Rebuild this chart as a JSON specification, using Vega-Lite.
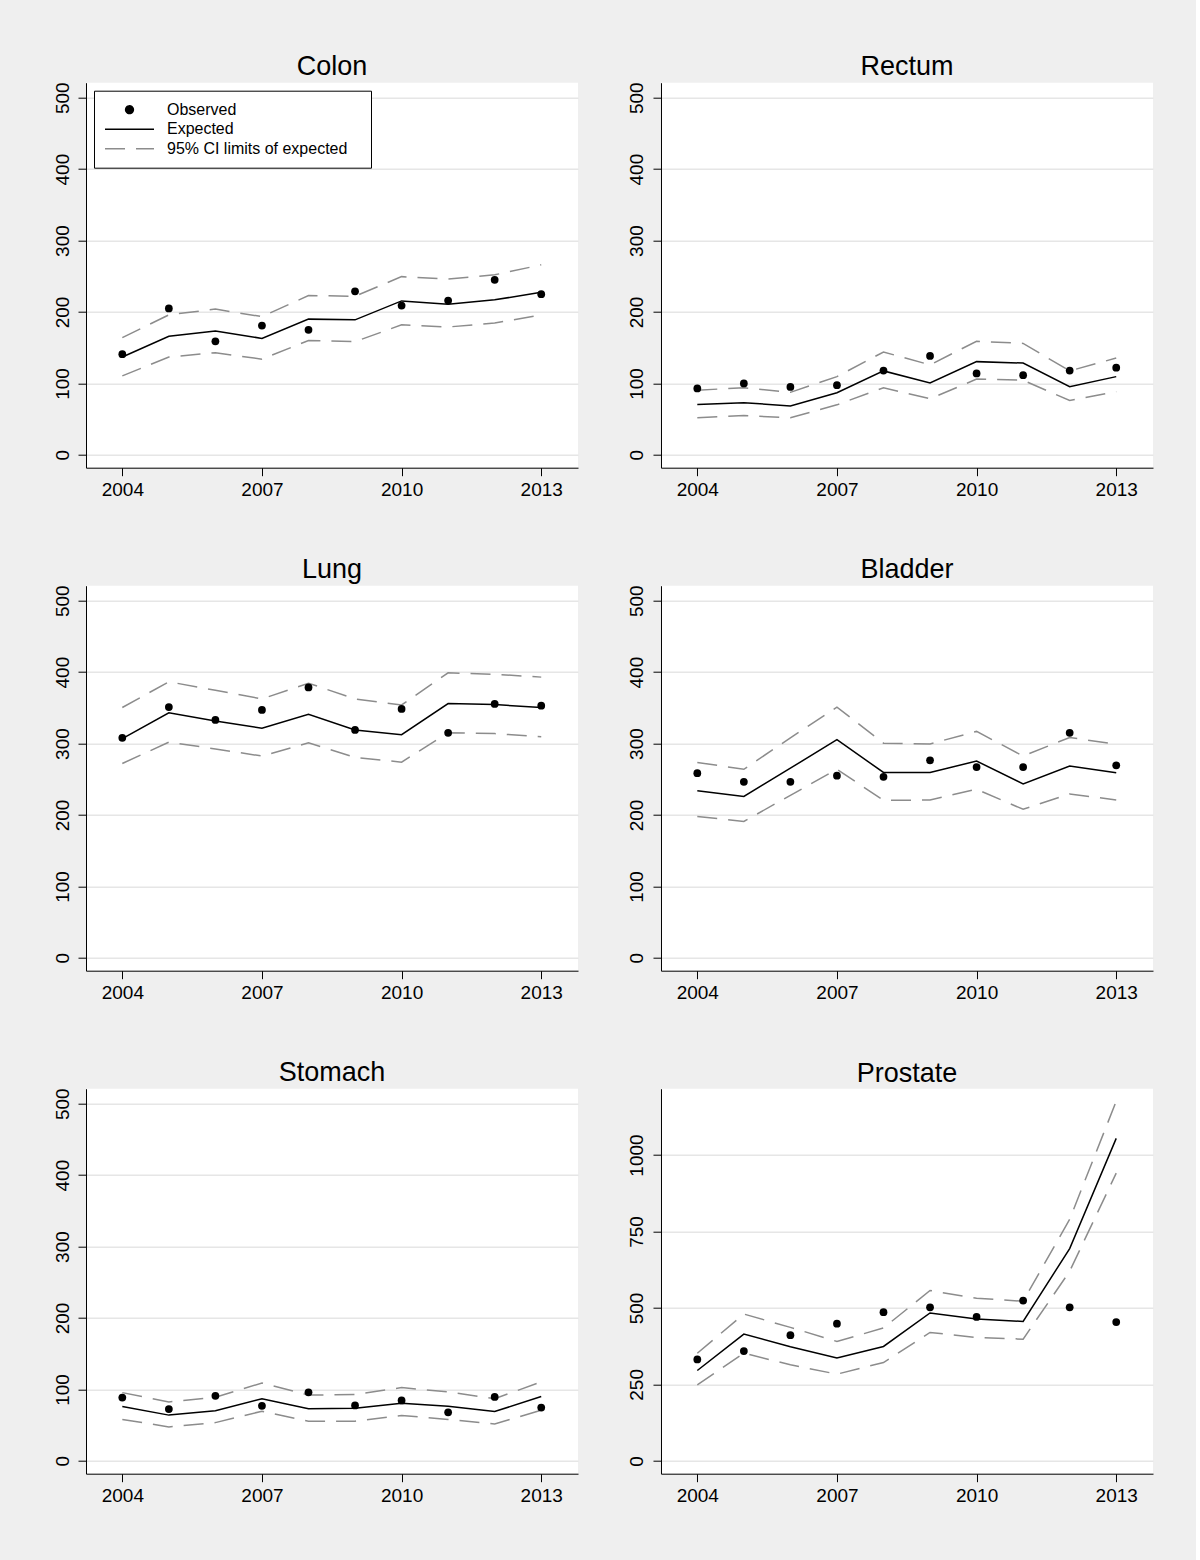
{
  "$schema": "https://vega.github.io/schema/vega-lite/v6.json",
  "background": "#efefef",
  "padding": {"left": 53, "top": 52.7, "right": 43, "bottom": 63},
  "datasets": {
    "cancer": [
      {"site": "Colon", "year": 2004, "obs": 141, "exp": 137, "lo": 110.5, "hi": 164},
      {"site": "Colon", "year": 2005, "obs": 205, "exp": 166, "lo": 137, "hi": 196},
      {"site": "Colon", "year": 2006, "obs": 159, "exp": 173.5, "lo": 143, "hi": 204},
      {"site": "Colon", "year": 2007, "obs": 181, "exp": 163, "lo": 134, "hi": 193.5},
      {"site": "Colon", "year": 2008, "obs": 175, "exp": 190, "lo": 160, "hi": 223},
      {"site": "Colon", "year": 2009, "obs": 229, "exp": 189, "lo": 158.5, "hi": 222},
      {"site": "Colon", "year": 2010, "obs": 209, "exp": 215.5, "lo": 182, "hi": 249.5},
      {"site": "Colon", "year": 2011, "obs": 216, "exp": 211, "lo": 179, "hi": 246},
      {"site": "Colon", "year": 2012, "obs": 245, "exp": 217, "lo": 184.5, "hi": 252},
      {"site": "Colon", "year": 2013, "obs": 225, "exp": 227.5, "lo": 196, "hi": 266},
      {"site": "Rectum", "year": 2004, "obs": 93, "exp": 70.5, "lo": 52, "hi": 90.5},
      {"site": "Rectum", "year": 2005, "obs": 100, "exp": 73, "lo": 55, "hi": 94},
      {"site": "Rectum", "year": 2006, "obs": 95, "exp": 68.5, "lo": 52, "hi": 87.5},
      {"site": "Rectum", "year": 2007, "obs": 97.5, "exp": 87, "lo": 70, "hi": 109.5},
      {"site": "Rectum", "year": 2008, "obs": 118, "exp": 117.5, "lo": 94, "hi": 144},
      {"site": "Rectum", "year": 2009, "obs": 138.5, "exp": 100.5, "lo": 78.5, "hi": 126},
      {"site": "Rectum", "year": 2010, "obs": 114, "exp": 130.5, "lo": 106, "hi": 159},
      {"site": "Rectum", "year": 2011, "obs": 111.5, "exp": 128.5, "lo": 104.5, "hi": 156},
      {"site": "Rectum", "year": 2012, "obs": 118, "exp": 95.5, "lo": 76, "hi": 117.5},
      {"site": "Rectum", "year": 2013, "obs": 122, "exp": 109.5, "lo": 88.5, "hi": 135.5},
      {"site": "Lung", "year": 2004, "obs": 308, "exp": 307, "lo": 272, "hi": 350.5},
      {"site": "Lung", "year": 2005, "obs": 351, "exp": 343, "lo": 302, "hi": 386.5},
      {"site": "Lung", "year": 2006, "obs": 333, "exp": 331.5, "lo": 292.5, "hi": 374.5},
      {"site": "Lung", "year": 2007, "obs": 347, "exp": 321.5, "lo": 282.5, "hi": 362.5},
      {"site": "Lung", "year": 2008, "obs": 378.5, "exp": 341, "lo": 301, "hi": 384.5},
      {"site": "Lung", "year": 2009, "obs": 319, "exp": 319, "lo": 280.5, "hi": 362.5},
      {"site": "Lung", "year": 2010, "obs": 348.5, "exp": 312.5, "lo": 274, "hi": 354},
      {"site": "Lung", "year": 2011, "obs": 315, "exp": 356, "lo": 315, "hi": 399},
      {"site": "Lung", "year": 2012, "obs": 355.5, "exp": 354.5, "lo": 314, "hi": 397},
      {"site": "Lung", "year": 2013, "obs": 353, "exp": 350.5, "lo": 309.5, "hi": 393},
      {"site": "Bladder", "year": 2004, "obs": 258.5, "exp": 234, "lo": 198, "hi": 273.5},
      {"site": "Bladder", "year": 2005, "obs": 246.5, "exp": 226, "lo": 191, "hi": 264},
      {"site": "Bladder", "year": 2006, "obs": 246.5, "exp": 265.5, "lo": 227.5, "hi": 308},
      {"site": "Bladder", "year": 2007, "obs": 255, "exp": 305.5, "lo": 264, "hi": 351},
      {"site": "Bladder", "year": 2008, "obs": 253.5, "exp": 259.5, "lo": 220.5, "hi": 300.5},
      {"site": "Bladder", "year": 2009, "obs": 276.5, "exp": 259.5, "lo": 221, "hi": 299.5},
      {"site": "Bladder", "year": 2010, "obs": 267, "exp": 275.5, "lo": 236, "hi": 317},
      {"site": "Bladder", "year": 2011, "obs": 267, "exp": 243.5, "lo": 208, "hi": 282.5},
      {"site": "Bladder", "year": 2012, "obs": 315, "exp": 268.5, "lo": 229.5, "hi": 308.5},
      {"site": "Bladder", "year": 2013, "obs": 269.5, "exp": 259, "lo": 221, "hi": 299},
      {"site": "Stomach", "year": 2004, "obs": 88.5, "exp": 76, "lo": 58, "hi": 95.5},
      {"site": "Stomach", "year": 2005, "obs": 72.5, "exp": 64, "lo": 47.5, "hi": 82.5},
      {"site": "Stomach", "year": 2006, "obs": 91, "exp": 70, "lo": 53.5, "hi": 89},
      {"site": "Stomach", "year": 2007, "obs": 77, "exp": 87, "lo": 69.5, "hi": 109},
      {"site": "Stomach", "year": 2008, "obs": 96, "exp": 73, "lo": 55.5, "hi": 92},
      {"site": "Stomach", "year": 2009, "obs": 77.5, "exp": 73.5, "lo": 55.5, "hi": 93},
      {"site": "Stomach", "year": 2010, "obs": 84.5, "exp": 80.5, "lo": 63.5, "hi": 102.5},
      {"site": "Stomach", "year": 2011, "obs": 68, "exp": 76.5, "lo": 58, "hi": 96.5},
      {"site": "Stomach", "year": 2012, "obs": 89.5, "exp": 69, "lo": 51.5, "hi": 87},
      {"site": "Stomach", "year": 2013, "obs": 74.5, "exp": 90, "lo": 71, "hi": 110.5},
      {"site": "Prostate", "year": 2004, "obs": 331.5, "exp": 295.5, "lo": 248.5, "hi": 352},
      {"site": "Prostate", "year": 2005, "obs": 359, "exp": 414.5, "lo": 352, "hi": 480},
      {"site": "Prostate", "year": 2006, "obs": 411, "exp": 373, "lo": 314, "hi": 436.5},
      {"site": "Prostate", "year": 2007, "obs": 448.5, "exp": 336, "lo": 283.5, "hi": 390.5},
      {"site": "Prostate", "year": 2008, "obs": 486, "exp": 374, "lo": 321.5, "hi": 434.5},
      {"site": "Prostate", "year": 2009, "obs": 502, "exp": 483.5, "lo": 420, "hi": 557},
      {"site": "Prostate", "year": 2010, "obs": 470.5, "exp": 464, "lo": 403.5, "hi": 531.5},
      {"site": "Prostate", "year": 2011, "obs": 524, "exp": 456, "lo": 398, "hi": 522},
      {"site": "Prostate", "year": 2012, "obs": 502, "exp": 694, "lo": 620, "hi": 790},
      {"site": "Prostate", "year": 2013, "obs": 454, "exp": 1054.5, "lo": 941, "hi": 1176}
    ]
  },
  "columns": 2,
  "spacing": {"row": 56, "column": 50},
  "resolve": {"scale": {"color": "independent"}, "legend": {"color": "independent"}},
  "concat": [
    {
      "title": "Colon",
      "width": 492,
      "height": 385,
      "data": {"name": "cancer"},
      "transform": [{"filter": "datum.site === 'Colon'"}],
      "encoding": {
        "x": {"field": "year", "type": "quantitative", "scale": {"domain": [2003.22, 2013.79], "nice": false, "zero": false}, "axis": {"values": [2004, 2007, 2010, 2013], "format": "d", "title": null}}
      },
      "layer": [
        {
          "transform": [{"fold": ["lo", "hi"], "as": ["bound", "ci"]}],
          "mark": {"type": "line", "strokeDash": [20, 11], "strokeWidth": 1.5},
          "encoding": {
            "y": {"field": "ci", "type": "quantitative", "scale": {"domain": [-18, 521], "nice": false, "zero": false}, "axis": {"values": [0, 100, 200, 300, 400, 500], "title": null}},
            "detail": {"field": "bound"},
            "color": {
              "datum": "95% CI limits of expected",
              "type": "nominal",
              "scale": {"domain": ["Observed", "Expected", "95% CI limits of expected"], "range": ["black", "black", "#8c8c8c"]},
              "legend": {
                "title": null,
                "orient": "none",
                "legendX": 8,
                "legendY": 8,
                "strokeColor": "black",
                "fillColor": "white",
                "padding": 10,
                "labelFontSize": 16,
                "labelColor": "black",
                "labelLimit": 400,
                "labelOffset": 12,
                "labelExpr": "datum.label + '\u00a0\u00a0\u00a0\u200d'",
                "rowPadding": 1.5,
                "clipHeight": 18,
                "symbolType": "stroke",
                "symbolSize": 2400,
                "symbolStrokeWidth": 1.5,
                "encode": {
                  "symbols": {
                    "update": {
                      "shape": {"signal": "datum.value === 'Observed' ? 'circle' : 'stroke'"},
                      "size": {"signal": "datum.value === 'Observed' ? 60 : 2400"},
                      "fill": {"signal": "datum.value === 'Observed' ? 'black' : 'transparent'"},
                      "stroke": {"signal": "datum.value === 'Observed' ? 'transparent' : (datum.value === 'Expected' ? 'black' : '#8c8c8c')"},
                      "strokeDash": {"signal": "datum.value === '95% CI limits of expected' ? [20, 11] : [1, 0]"},
                      "strokeWidth": {"value": 1.5},
                      "opacity": {"value": 1}
                    }
                  }
                }
              }
            }
          }
        },
        {
          "mark": {"type": "line", "strokeWidth": 1.5},
          "encoding": {
            "y": {"field": "exp", "type": "quantitative", "axis": {"title": null}},
            "color": {"datum": "Expected", "type": "nominal"}
          }
        },
        {
          "mark": {"type": "point", "filled": true, "size": 60, "opacity": 1},
          "encoding": {
            "y": {"field": "obs", "type": "quantitative", "axis": {"title": null}},
            "color": {"datum": "Observed", "type": "nominal"}
          }
        }
      ]
    },
    {
      "title": "Rectum",
      "width": 492,
      "height": 385,
      "data": {"name": "cancer"},
      "transform": [{"filter": "datum.site === 'Rectum'"}],
      "encoding": {
        "x": {"field": "year", "type": "quantitative", "scale": {"domain": [2003.22, 2013.79], "nice": false, "zero": false}, "axis": {"values": [2004, 2007, 2010, 2013], "format": "d", "title": null}}
      },
      "layer": [
        {
          "transform": [{"fold": ["lo", "hi"], "as": ["bound", "ci"]}],
          "mark": {"type": "line", "strokeDash": [20, 11], "strokeWidth": 1.5, "color": "#8c8c8c"},
          "encoding": {
            "y": {"field": "ci", "type": "quantitative", "scale": {"domain": [-18, 521], "nice": false, "zero": false}, "axis": {"values": [0, 100, 200, 300, 400, 500], "title": null}},
            "detail": {"field": "bound"}
          }
        },
        {
          "mark": {"type": "line", "strokeWidth": 1.5, "color": "black"},
          "encoding": {"y": {"field": "exp", "type": "quantitative", "axis": {"title": null}}}
        },
        {
          "mark": {"type": "point", "filled": true, "size": 60, "opacity": 1, "color": "black"},
          "encoding": {"y": {"field": "obs", "type": "quantitative", "axis": {"title": null}}}
        }
      ]
    },
    {
      "title": "Lung",
      "width": 492,
      "height": 385,
      "data": {"name": "cancer"},
      "transform": [{"filter": "datum.site === 'Lung'"}],
      "encoding": {
        "x": {"field": "year", "type": "quantitative", "scale": {"domain": [2003.22, 2013.79], "nice": false, "zero": false}, "axis": {"values": [2004, 2007, 2010, 2013], "format": "d", "title": null}}
      },
      "layer": [
        {
          "transform": [{"fold": ["lo", "hi"], "as": ["bound", "ci"]}],
          "mark": {"type": "line", "strokeDash": [20, 11], "strokeWidth": 1.5, "color": "#8c8c8c"},
          "encoding": {
            "y": {"field": "ci", "type": "quantitative", "scale": {"domain": [-18, 521], "nice": false, "zero": false}, "axis": {"values": [0, 100, 200, 300, 400, 500], "title": null}},
            "detail": {"field": "bound"}
          }
        },
        {
          "mark": {"type": "line", "strokeWidth": 1.5, "color": "black"},
          "encoding": {"y": {"field": "exp", "type": "quantitative", "axis": {"title": null}}}
        },
        {
          "mark": {"type": "point", "filled": true, "size": 60, "opacity": 1, "color": "black"},
          "encoding": {"y": {"field": "obs", "type": "quantitative", "axis": {"title": null}}}
        }
      ]
    },
    {
      "title": "Bladder",
      "width": 492,
      "height": 385,
      "data": {"name": "cancer"},
      "transform": [{"filter": "datum.site === 'Bladder'"}],
      "encoding": {
        "x": {"field": "year", "type": "quantitative", "scale": {"domain": [2003.22, 2013.79], "nice": false, "zero": false}, "axis": {"values": [2004, 2007, 2010, 2013], "format": "d", "title": null}}
      },
      "layer": [
        {
          "transform": [{"fold": ["lo", "hi"], "as": ["bound", "ci"]}],
          "mark": {"type": "line", "strokeDash": [20, 11], "strokeWidth": 1.5, "color": "#8c8c8c"},
          "encoding": {
            "y": {"field": "ci", "type": "quantitative", "scale": {"domain": [-18, 521], "nice": false, "zero": false}, "axis": {"values": [0, 100, 200, 300, 400, 500], "title": null}},
            "detail": {"field": "bound"}
          }
        },
        {
          "mark": {"type": "line", "strokeWidth": 1.5, "color": "black"},
          "encoding": {"y": {"field": "exp", "type": "quantitative", "axis": {"title": null}}}
        },
        {
          "mark": {"type": "point", "filled": true, "size": 60, "opacity": 1, "color": "black"},
          "encoding": {"y": {"field": "obs", "type": "quantitative", "axis": {"title": null}}}
        }
      ]
    },
    {
      "title": "Stomach",
      "width": 492,
      "height": 385,
      "data": {"name": "cancer"},
      "transform": [{"filter": "datum.site === 'Stomach'"}],
      "encoding": {
        "x": {"field": "year", "type": "quantitative", "scale": {"domain": [2003.22, 2013.79], "nice": false, "zero": false}, "axis": {"values": [2004, 2007, 2010, 2013], "format": "d", "title": null}}
      },
      "layer": [
        {
          "transform": [{"fold": ["lo", "hi"], "as": ["bound", "ci"]}],
          "mark": {"type": "line", "strokeDash": [20, 11], "strokeWidth": 1.5, "color": "#8c8c8c"},
          "encoding": {
            "y": {"field": "ci", "type": "quantitative", "scale": {"domain": [-18, 521], "nice": false, "zero": false}, "axis": {"values": [0, 100, 200, 300, 400, 500], "title": null}},
            "detail": {"field": "bound"}
          }
        },
        {
          "mark": {"type": "line", "strokeWidth": 1.5, "color": "black"},
          "encoding": {"y": {"field": "exp", "type": "quantitative", "axis": {"title": null}}}
        },
        {
          "mark": {"type": "point", "filled": true, "size": 60, "opacity": 1, "color": "black"},
          "encoding": {"y": {"field": "obs", "type": "quantitative", "axis": {"title": null}}}
        }
      ]
    },
    {
      "title": "Prostate",
      "width": 492,
      "height": 385,
      "data": {"name": "cancer"},
      "transform": [{"filter": "datum.site === 'Prostate'"}],
      "encoding": {
        "x": {"field": "year", "type": "quantitative", "scale": {"domain": [2003.22, 2013.79], "nice": false, "zero": false}, "axis": {"values": [2004, 2007, 2010, 2013], "format": "d", "title": null}}
      },
      "layer": [
        {
          "transform": [{"fold": ["lo", "hi"], "as": ["bound", "ci"]}],
          "mark": {"type": "line", "strokeDash": [20, 11], "strokeWidth": 1.5, "color": "#8c8c8c"},
          "encoding": {
            "y": {"field": "ci", "type": "quantitative", "scale": {"domain": [-42, 1217], "nice": false, "zero": false}, "axis": {"values": [0, 250, 500, 750, 1000], "format": "d", "title": null}},
            "detail": {"field": "bound"}
          }
        },
        {
          "mark": {"type": "line", "strokeWidth": 1.5, "color": "black"},
          "encoding": {"y": {"field": "exp", "type": "quantitative", "axis": {"title": null}}}
        },
        {
          "mark": {"type": "point", "filled": true, "size": 60, "opacity": 1, "color": "black"},
          "encoding": {"y": {"field": "obs", "type": "quantitative", "axis": {"title": null}}}
        }
      ]
    }
  ],
  "config": {
    "font": "Liberation Sans",
    "view": {"fill": "white", "stroke": null},
    "title": {"fontSize": 27, "fontWeight": "normal", "color": "black", "offset": 1, "frame": "group", "anchor": "middle"},
    "axis": {
      "domainColor": "black",
      "domainWidth": 1,
      "tickColor": "black",
      "tickSize": 8,
      "labelColor": "black",
      "labelFontSize": 19,
      "labelFlush": false,
      "gridColor": "#e6e6e6",
      "gridWidth": 1.5
    },
    "axisX": {"grid": false, "labelPadding": 5},
    "axisY": {"labelAngle": -90, "labelAlign": "center", "labelBaseline": "bottom", "labelPadding": 6}
  }
}
